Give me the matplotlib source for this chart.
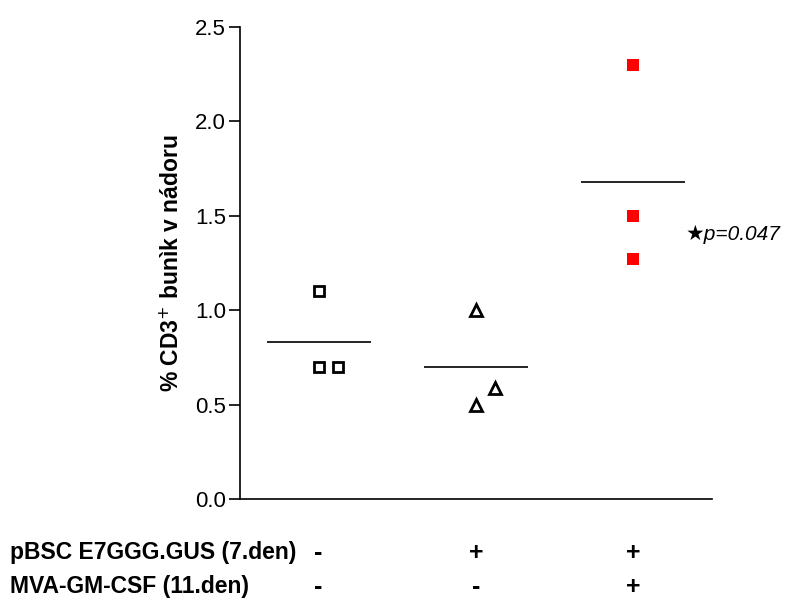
import matplotlib
matplotlib.use('Agg')
import matplotlib.pyplot as plt
import matplotlib.transforms as mtransforms

plt.rcParams['font.family'] = ['Liberation Sans', 'DejaVu Sans']

# data
groups = [1, 2, 3]
g1_x = [1.0, 1.0, 1.12]
g1_y = [1.10, 0.70, 0.70]
g2_x = [2.0, 2.0, 2.12]
g2_y = [1.00, 0.50, 0.59]
g3_x = [3.0, 3.0, 3.0]
g3_y = [2.30, 1.50, 1.27]
means = [0.83, 0.70, 1.68]
row_labels = ['pBSC E7GGG.GUS (7.den)', 'MVA-GM-CSF (11.den)']
row1_signs = ['-', '+', '+']
row2_signs = ['-', '-', '+']
yticks = [0.0, 0.5, 1.0, 1.5, 2.0, 2.5]

fig = plt.figure(figsize=(7.86, 5.98), dpi=100)
ax = fig.add_axes([0.3053, 0.1656, 0.6005, 0.7893])

ax.plot(g1_x, g1_y, 's', ms=7, mfc='white', mec='black', mew=2, ls='none')
ax.plot(g2_x, g2_y, '^', ms=8, mfc='white', mec='black', mew=2, ls='none')
ax.plot(g3_x, g3_y, 's', ms=8.5, mfc='red', mec='red', mew=0, ls='none')

for g, m in zip(groups, means):
    ax.hlines(m, g - 0.33, g + 0.33, colors='black', lw=1.2)

# significance note
ax.text(3.33, 1.40, '\u2605p=0.047', fontsize=15, style='italic', ha='left',
        va='center', family=['Liberation Sans', 'DejaVu Sans'])

ax.set_xlim(0.5, 3.5)
ax.set_ylim(0, 2.5)
ax.set_yticks(yticks)
ax.set_yticklabels(['%.1f' % v for v in yticks], fontsize=16)
ax.set_xticks([])
ax.spines['top'].set_visible(False)
ax.spines['right'].set_visible(False)
ax.spines['left'].set_linewidth(1.2)
ax.spines['bottom'].set_linewidth(1.2)
ax.tick_params(axis='y', direction='out', length=8, width=1.2, pad=2)
ax.set_ylabel('% CD3$^{+}$ bunìk v nádoru', fontsize=16.5, fontweight='bold', labelpad=8)

trans = mtransforms.blended_transform_factory(ax.transData, fig.transFigure)
rows_y = [1 - 553 / 598, 1 - 587 / 598]
for ry, lab, signs in zip(rows_y, row_labels, [row1_signs, row2_signs]):
    fig.text(10 / 786, ry, lab, fontsize=16.5, fontweight='bold', ha='left', va='center')
    for g, s in zip(groups, signs):
        ax.text(g, ry, s, fontsize=18, fontweight='bold', ha='center', va='center',
                transform=trans, clip_on=False)

fig.savefig('out.png', dpi=100)
